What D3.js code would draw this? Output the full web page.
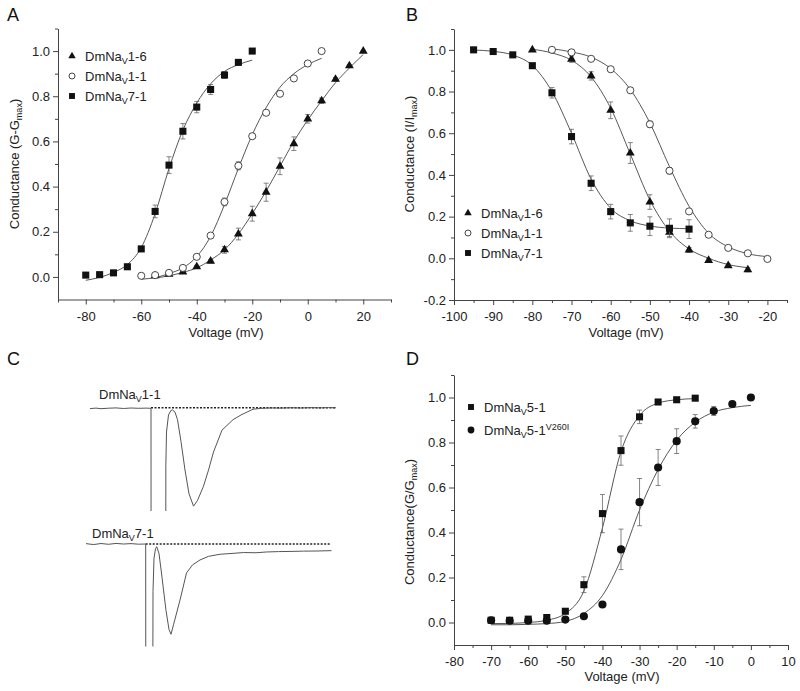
<!DOCTYPE html>
<html>
<head>
<meta charset="utf-8">
<script src="https://cdn.jsdelivr.net/npm/d3@7"></script>
<style>
  body { margin: 0; background: #fff; }
  svg { font-family: "Liberation Sans", Arial, sans-serif; }
  .tick text { font-size: 13px; fill: #222; }
  .domain, .tick line { stroke: #444; }
</style>
</head>
<body>
<svg id="fig" width="800" height="691"></svg>
<script>
// ---------- panel A : activation ----------
const voltA16 = [-55,-50,-45,-40,-35,-30,-25,-20,-15,-10,-5,0,5,10,15,20];
const gA16 = [0.005,0.012,0.022,0.045,0.07,0.12,0.19,0.28,0.375,0.49,0.59,0.70,0.78,0.875,0.935,1.0];
const errA16 = [0.003,0.003,0.004,0.006,0.008,0.015,0.026,0.033,0.04,0.037,0.03,0.019,0.012,0.008,0.005,0.003];
const fitA16 = [-0.005,0.005,0.02,0.04,0.075,0.12,0.19,0.28,0.38,0.49,0.6,0.695,0.78,0.86,0.925,0.985];

const voltA11 = [-60,-55,-50,-45,-40,-35,-30,-25,-20,-15,-10,-5,0,5];
const gA11 = [0.005,0.008,0.018,0.04,0.089,0.183,0.332,0.492,0.623,0.727,0.811,0.879,0.945,1.0];
const errA11 = [0.008,0.006,0.004,0.004,0.004,0.006,0.017,0.018,0.01,0.006,0.005,0.004,0.003,0.003];
const fitA11 = [-0.01,-0.003,0.015,0.04,0.09,0.18,0.32,0.48,0.63,0.75,0.84,0.9,0.94,0.968];

const voltA71 = [-80,-75,-70,-65,-60,-55,-50,-45,-40,-35,-30,-25,-20];
const gA71 = [0.008,0.01,0.018,0.045,0.124,0.29,0.495,0.645,0.752,0.83,0.894,0.95,1.0];
const errA71 = [0.003,0.003,0.003,0.005,0.011,0.028,0.037,0.034,0.025,0.022,0.015,0.008,0.003];
const fitA71 = [-0.015,-0.002,0.02,0.055,0.13,0.28,0.48,0.65,0.77,0.855,0.91,0.94,0.96];

// ---------- panel B : inactivation ----------
const voltB16 = [-80,-70,-65,-60,-55,-50,-45,-40,-35,-30,-25];
const gB16 = [1.0,0.955,0.875,0.71,0.505,0.27,0.125,0.04,-0.01,-0.035,-0.055];
const errB16 = [0.004,0.015,0.02,0.04,0.05,0.035,0.02,0.012,0.008,0.008,0.01];
const fitVoltB16 = [-80,-75,-70,-65,-60,-55,-50,-45,-40,-35,-30,-25];
const fitB16 = [1.003,0.985,0.95,0.87,0.72,0.5,0.28,0.13,0.045,0.0,-0.03,-0.045];

const voltB11 = [-75,-70,-65,-60,-55,-50,-45,-40,-35,-30,-25,-20];
const gB11 = [1.0,0.988,0.957,0.907,0.806,0.643,0.42,0.225,0.113,0.05,0.024,-0.003];
const errB11 = [0.004,0.008,0.006,0.006,0.006,0.015,0.015,0.01,0.005,0.004,0.003,0.003];
const fitB11 = [1.005,0.99,0.965,0.91,0.81,0.65,0.44,0.25,0.12,0.055,0.022,0.008];

const voltB71 = [-95,-90,-85,-80,-75,-70,-65,-60,-55,-50,-45,-40];
const gB71 = [1.0,0.992,0.976,0.924,0.794,0.584,0.36,0.224,0.17,0.154,0.144,0.14];
const errB71 = [0.003,0.004,0.005,0.008,0.025,0.035,0.035,0.035,0.04,0.045,0.045,0.045];
const fitB71 = [0.999,0.993,0.975,0.925,0.8,0.6,0.38,0.24,0.18,0.155,0.145,0.142];

// ---------- panel D : DmNaV5-1 activation ----------
const voltD51 = [-70,-65,-60,-55,-50,-45,-40,-35,-30,-25,-20,-15];
const gD51 = [0.01,0.01,0.015,0.022,0.05,0.168,0.484,0.764,0.914,0.98,0.99,0.997];
const errD51 = [0.004,0.004,0.004,0.005,0.008,0.035,0.085,0.065,0.03,0.008,0.005,0.004];
const fitD51 = [-0.005,-0.004,0.0,0.01,0.04,0.14,0.42,0.76,0.92,0.975,0.99,0.995];

const voltDV = [-70,-65,-60,-55,-50,-45,-40,-35,-30,-25,-20,-15,-10,-5,0];
const gDV = [0.01,0.008,0.008,0.008,0.013,0.028,0.08,0.325,0.535,0.689,0.806,0.894,0.94,0.971,1.0];
const errDV = [0.004,0.004,0.004,0.004,0.004,0.005,0.008,0.09,0.105,0.08,0.055,0.03,0.02,0.008,0.004];
const fitDV = [-0.01,-0.01,-0.008,-0.005,0.005,0.04,0.12,0.28,0.5,0.68,0.81,0.89,0.935,0.955,0.965];

// ---------- panel C : current traces (time ms, normalised current) ----------
const traceT1 = [0.8,2,3,4.5,6,7.5,9,10.5,12,13,13.02,15.94,15.97,16.1,16.5,17.0,17.3,17.8,18.3,19,19.8,20.6,21.5,22.3,23.5,24.5,25.5,27.2,29.4,31,33.4,35,37,39,41,43,45,47,48.5,50];
const traceI1 = [-0.003,0.002,-0.004,0.001,0.004,-0.002,0.003,0.0,0.002,0.0,-2,-2,-0.6,-0.25,-0.07,-0.022,-0.018,-0.04,-0.12,-0.35,-0.65,-0.9,-1.03,-0.97,-0.82,-0.65,-0.46,-0.23,-0.12,-0.07,-0.01,0.0,0.004,0.002,0.006,0.003,0.007,0.004,0.008,0.005];
const traceT2 = [0,1.5,3,4.5,6,7.5,9,10.5,11.94,11.96,13.34,13.4,13.6,13.9,14.14,14.6,15.2,16,16.6,17,17.5,18.8,20.1,21.3,22.8,24.5,26.8,29,31.5,34,36.1,38.5,41,43.5,46,49.1];
const traceI2 = [0.004,-0.006,0.005,-0.003,0.006,0.0,0.004,-0.002,0.0,-2,-2,-0.5,-0.15,-0.05,-0.028,-0.1,-0.35,-0.7,-0.9,-0.95,-0.85,-0.59,-0.305,-0.22,-0.168,-0.13,-0.108,-0.1,-0.09,-0.092,-0.084,-0.08,-0.078,-0.075,-0.074,-0.07];

// ticks
const ticksAx = [-80,-60,-40,-20,0,20];
const minorAx = [-90,-70,-50,-30,-10,10,30];
const ticksBx = [-100,-90,-80,-70,-60,-50,-40,-30,-20];
const minorBx = [-95,-85,-75,-65,-55,-45,-35,-25,-15];
const ticksDx = [-80,-70,-60,-50,-40,-30,-20,-10,0,10];
const minorDx = [-75,-65,-55,-45,-35,-25,-15,-5,5];
const ticksY = [0,0.2,0.4,0.6,0.8,1.0];
const ticksBy = [-0.2,0,0.2,0.4,0.6,0.8,1.0];
const minorY = [0.1,0.3,0.5,0.7,0.9,1.1];
const minorBy = [-0.1,0.1,0.3,0.5,0.7,0.9,1.1];

const svg = d3.select('#fig');
const ink = '#111';

function symPath(type, size) {
  return d3.symbol().type(type).size(size)();
}

function drawPanel(p) {
  const g = svg.append('g');
  const x = p.x, y = p.y;
  const fmtY = d => d.toFixed(1);
  // axes
  g.append('g').attr('transform', `translate(0,${y.range()[0]})`)
    .call(d3.axisBottom(x).tickValues(p.xt).tickFormat(d => String(d)).tickSize(5).tickPadding(7).tickSizeOuter(0));
  g.append('g').attr('transform', `translate(0,${y.range()[0]})`)
    .call(d3.axisBottom(x).tickValues(p.xm).tickFormat('').tickSize(3).tickSizeOuter(0))
    .select('.domain').remove();
  g.append('g').attr('transform', `translate(${x.range()[0]},0)`)
    .call(d3.axisLeft(y).tickValues(p.yt).tickFormat(fmtY).tickSize(5).tickPadding(3).tickSizeOuter(0));
  g.append('g').attr('transform', `translate(${x.range()[0]},0)`)
    .call(d3.axisLeft(y).tickValues(p.ym).tickFormat('').tickSize(3).tickSizeOuter(0))
    .select('.domain').remove();

  // fit curves
  const line = d3.line().x(d => x(d[0])).y(d => y(d[1])).curve(d3.curveMonotoneX);
  p.series.forEach(s => {
    const fv = s.fitV || s.v;
    g.append('path').datum(fv.map((v, i) => [v, s.fit[i]]))
      .attr('d', line).attr('fill', 'none').attr('stroke', '#444').attr('stroke-width', 0.9);
  });
  // error bars, then markers
  p.series.forEach(s => {
    const pts = s.v.map((v, i) => ({ v: v, g: s.g[i], e: s.e[i] }));
    const eb = g.append('g').attr('stroke', '#666').attr('stroke-width', 0.8);
    pts.forEach(d => {
      const cx = x(d.v), y1 = y(d.g + d.e), y2 = y(d.g - d.e);
      eb.append('line').attr('x1', cx).attr('x2', cx).attr('y1', y1).attr('y2', y2);
      eb.append('line').attr('x1', cx - 2.5).attr('x2', cx + 2.5).attr('y1', y1).attr('y2', y1);
      eb.append('line').attr('x1', cx - 2.5).attr('x2', cx + 2.5).attr('y1', y2).attr('y2', y2);
    });
    g.append('g').selectAll('path').data(pts).join('path')
      .attr('transform', d => `translate(${x(d.v)},${y(d.g)})`)
      .attr('d', symPath(s.type, s.size))
      .attr('fill', s.open ? '#fff' : ink)
      .attr('stroke', s.open ? '#333' : 'none')
      .attr('stroke-width', 0.9);
  });

  // legend
  p.legend.forEach((l, i) => {
    const s = p.series[l.idx];
    const ly = p.legY + i * p.legStep;
    g.append('path').attr('transform', `translate(${p.legX},${ly})`)
      .attr('d', symPath(s.type, s.size * 0.7))
      .attr('fill', s.open ? '#fff' : ink).attr('stroke', s.open ? '#333' : 'none').attr('stroke-width', 0.9);
    const t = g.append('text').attr('x', p.legX + 13).attr('y', ly + 4.5)
      .attr('font-size', 13).attr('fill', '#222');
    t.append('tspan').text('DmNa');
    t.append('tspan').attr('font-size', 9).attr('dy', 3).text('V');
    t.append('tspan').attr('dy', -3).text(l.tail);
    if (l.sup) t.append('tspan').attr('font-size', 9).attr('dy', -5).text(l.sup);
  });

  // axis titles
  g.append('text').attr('x', p.xlabX).attr('y', p.xlabY).attr('text-anchor', 'middle')
    .attr('font-size', 13).attr('fill', '#222').text('Voltage (mV)');
  const yl = g.append('text').attr('transform', `translate(${p.ylabX},${p.ylabY}) rotate(-90)`)
    .attr('text-anchor', 'middle').attr('font-size', 13).attr('fill', '#222');
  yl.append('tspan').text(p.ylab[0]);
  yl.append('tspan').attr('font-size', 9).attr('dy', 3).text('max');
  yl.append('tspan').attr('dy', -3).text(p.ylab[1]);
}

// Panel A
drawPanel({
  x: d3.scaleLinear().domain([-90, 30]).range([58, 391]),
  y: d3.scaleLinear().domain([-0.1, 1.1]).range([299.5, 28.5]),
  xt: ticksAx, xm: minorAx, yt: ticksY, ym: minorY,
  series: [
    { v: voltA16, g: gA16, e: errA16, fit: fitA16, type: d3.symbolTriangle, size: 34 },
    { v: voltA11, g: gA11, e: errA11, fit: fitA11, type: d3.symbolCircle, size: 40, open: true },
    { v: voltA71, g: gA71, e: errA71, fit: fitA71, type: d3.symbolSquare, size: 50 }
  ],
  legend: [{ idx: 0, tail: '1-6' }, { idx: 1, tail: '1-1' }, { idx: 2, tail: '7-1' }],
  legX: 72, legY: 56, legStep: 20,
  xlabX: 226, xlabY: 337, ylabX: 19, ylabY: 164, ylab: ['Conductance (G-G', ')']
});

// Panel B
drawPanel({
  x: d3.scaleLinear().domain([-100, -15]).range([454, 787]),
  y: d3.scaleLinear().domain([-0.2, 1.1]).range([300, 29]),
  xt: ticksBx, xm: minorBx, yt: ticksBy, ym: minorBy,
  series: [
    { v: voltB16, g: gB16, e: errB16, fit: fitB16, fitV: fitVoltB16, type: d3.symbolTriangle, size: 34 },
    { v: voltB11, g: gB11, e: errB11, fit: fitB11, type: d3.symbolCircle, size: 40, open: true },
    { v: voltB71, g: gB71, e: errB71, fit: fitB71, type: d3.symbolSquare, size: 50 }
  ],
  legend: [{ idx: 0, tail: '1-6' }, { idx: 1, tail: '1-1' }, { idx: 2, tail: '7-1' }],
  legX: 468, legY: 213, legStep: 20,
  xlabX: 626, xlabY: 337, ylabX: 414, ylabY: 154, ylab: ['Conductance (I/I', ')']
});

// Panel D
drawPanel({
  x: d3.scaleLinear().domain([-80, 10]).range([454, 788]),
  y: d3.scaleLinear().domain([-0.1, 1.1]).range([645, 375]),
  xt: ticksDx, xm: minorDx, yt: ticksY, ym: minorY,
  series: [
    { v: voltD51, g: gD51, e: errD51, fit: fitD51, type: d3.symbolSquare, size: 50 },
    { v: voltDV, g: gDV, e: errDV, fit: fitDV, type: d3.symbolCircle, size: 52 }
  ],
  legend: [{ idx: 0, tail: '5-1' }, { idx: 1, tail: '5-1', sup: 'V260I' }],
  legX: 471, legY: 407, legStep: 23,
  xlabX: 622, xlabY: 681, ylabX: 414, ylabY: 522, ylab: ['Conductance(G/G', ')']
});

// Panel C traces
const xC = d3.scaleLinear().domain([0, 50]).range([86, 336]);
const yC = d3.scaleLinear().domain([0, -1]).range([0, 95]);
const traceLine = d3.line().x(d => xC(d[0])).y(d => yC(d[1]));
svg.append('defs').append('clipPath').attr('id', 'clipC')
  .append('rect').attr('x', 0).attr('y', -30).attr('width', 400).attr('height', 30 + yC(-1.08));

const traces = [
  { t: traceT1, i: traceI1, base: 408.3, dot: [13, 50], dotI: 0.006, label: '1-1', lx: 99, ly: 399 },
  { t: traceT2, i: traceI2, base: 544, dot: [11.94, 48.8], dotI: 0, label: '7-1', lx: 92, ly: 538 }
];
traces.forEach(tr => {
  const g = svg.append('g').attr('transform', `translate(0,${tr.base})`);
  g.append('path').datum(tr.dot.map(t => [t, tr.dotI])).attr('d', traceLine)
    .attr('stroke', '#222').attr('stroke-width', 1.3).attr('stroke-dasharray', '2,1.5').attr('fill', 'none');
  g.append('path').datum(tr.t.map((t, k) => [t, tr.i[k]])).attr('d', traceLine)
    .attr('clip-path', 'url(#clipC)')
    .attr('stroke', '#555').attr('stroke-width', 1).attr('fill', 'none');
  const t = svg.append('text').attr('x', tr.lx).attr('y', tr.ly).attr('font-size', 13).attr('fill', '#222');
  t.append('tspan').text('DmNa');
  t.append('tspan').attr('font-size', 9).attr('dy', 3).text('V');
  t.append('tspan').attr('dy', -3).text(tr.label);
});

// panel letters
[['A', 7, 21], ['B', 406, 21], ['C', 7, 365], ['D', 406, 365]].forEach(d => {
  svg.append('text').attr('x', d[1]).attr('y', d[2]).attr('font-size', 18).attr('fill', '#111').text(d[0]);
});
</script>
</body>
</html>
